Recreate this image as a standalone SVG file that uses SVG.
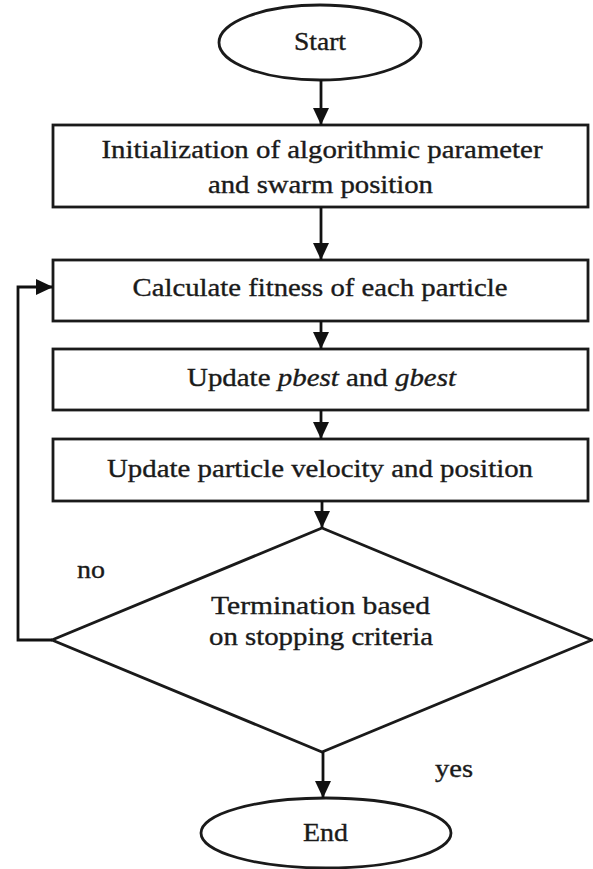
<svg xmlns="http://www.w3.org/2000/svg" width="593" height="869" viewBox="0 0 593 869">
<defs>
<marker id="ah" markerUnits="userSpaceOnUse" markerWidth="17" markerHeight="16" refX="17" refY="8" orient="auto" viewBox="0 0 17 16">
<path d="M0,0 L17,8 L0,16 z" fill="#111"/>
</marker>
<style>
.shape{fill:#fff;stroke:#1a1a1a;stroke-width:2.8}
.t{font-family:"Liberation Serif","Times New Roman",serif;font-size:25px;fill:#1a1a1a;stroke:#1a1a1a;stroke-width:0.35;text-anchor:middle}
.lbl{font-family:"Liberation Serif","Times New Roman",serif;font-size:25px;fill:#1a1a1a;stroke:#1a1a1a;stroke-width:0.35}
.c{fill:none;stroke:#111;stroke-width:2.8}
</style>
</defs>
<rect width="593" height="869" fill="#fff"/>
<g id="start">
<ellipse class="shape" cx="320" cy="42.5" rx="101" ry="37.5"/>
<text class="t" x="320" y="50" textLength="52" lengthAdjust="spacingAndGlyphs">Start</text>
</g>
<g id="init">
<rect class="shape" x="53" y="125" width="535" height="82"/>
<text class="t" x="322" y="158" textLength="441" lengthAdjust="spacingAndGlyphs">Initialization of algorithmic parameter</text>
<text class="t" x="320.5" y="193" textLength="225" lengthAdjust="spacingAndGlyphs">and swarm position</text>
</g>
<g id="fitness">
<rect class="shape" x="53" y="260" width="535" height="61"/>
<text class="t" x="320" y="296" textLength="375" lengthAdjust="spacingAndGlyphs">Calculate fitness of each particle</text>
</g>
<g id="update-best">
<rect class="shape" x="53" y="349" width="535" height="61"/>
<text class="t" x="321.5" y="386" textLength="269" lengthAdjust="spacingAndGlyphs">Update <tspan font-style="italic">pbest</tspan> and <tspan font-style="italic">gbest</tspan></text>
</g>
<g id="update-vel">
<rect class="shape" x="53" y="439" width="535" height="62"/>
<text class="t" x="320" y="477" textLength="426" lengthAdjust="spacingAndGlyphs">Update particle velocity and position</text>
</g>
<g id="termination">
<polygon class="shape" points="322,528 592,640 322,752 52,640"/>
<text class="t" x="320.5" y="614" textLength="219" lengthAdjust="spacingAndGlyphs">Termination based</text>
<text class="t" x="321" y="645" textLength="224" lengthAdjust="spacingAndGlyphs">on stopping criteria</text>
</g>
<g id="end">
<ellipse class="shape" cx="326" cy="833" rx="125" ry="35"/>
<text class="t" x="325.5" y="841" textLength="45" lengthAdjust="spacingAndGlyphs">End</text>
</g>
<g id="connectors">
<line class="c" x1="321" y1="80" x2="321" y2="125" marker-end="url(#ah)"/>
<line class="c" x1="321" y1="207" x2="321" y2="260" marker-end="url(#ah)"/>
<line class="c" x1="321" y1="321" x2="321" y2="349" marker-end="url(#ah)"/>
<line class="c" x1="321" y1="410" x2="321" y2="439" marker-end="url(#ah)"/>
<line class="c" x1="322" y1="501" x2="322" y2="528" marker-end="url(#ah)"/>
<line class="c" x1="323" y1="752" x2="323" y2="798" marker-end="url(#ah)"/>
<polyline class="c" points="52,640 18,640 18,287 53,287" marker-end="url(#ah)"/>
<text class="lbl" x="77" y="578" textLength="28" lengthAdjust="spacingAndGlyphs">no</text>
<text class="lbl" x="435" y="777" textLength="38" lengthAdjust="spacingAndGlyphs">yes</text>
</g>
</svg>
